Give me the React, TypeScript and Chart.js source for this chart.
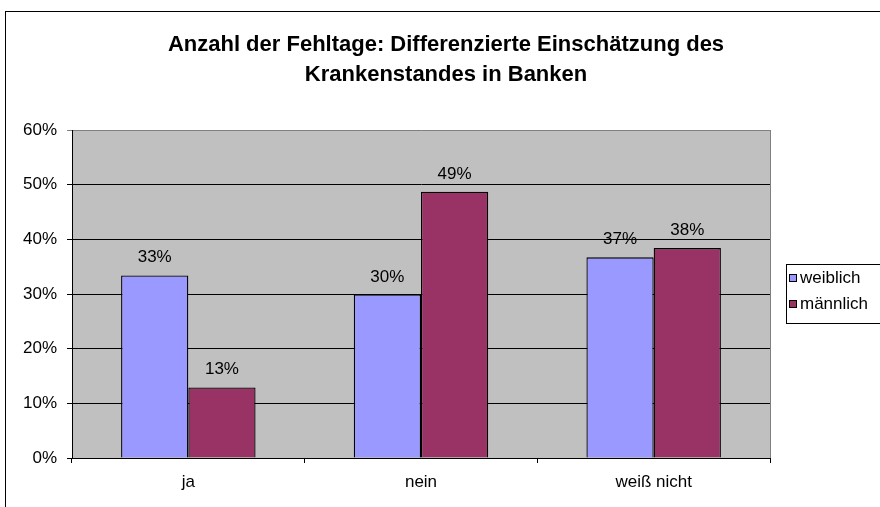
import React, { useEffect, useRef } from 'react';
import { Chart, registerables } from 'chart.js';

Chart.register(...registerables);

const categories = ['ja', 'nein', 'weiß nicht'];
const seriesNames = ['weiblich', 'männlich'];
const weiblich = [33.4, 29.9, 36.7];
const maennlich = [12.9, 48.7, 38.4];
const seriesColors = ['#9999FF', '#993366'];
const yMin = 0;
const yMax = 60;
const yStep = 10;
const titleLines = [
  'Anzahl der Fehltage: Differenzierte Einschätzung des',
  'Krankenstandes in Banken',
];

const FONT = '"Liberation Sans", Arial, sans-serif';

const decor = {
  id: 'decor',
  beforeDraw(chart: any) {
    const { ctx, chartArea: a } = chart;
    ctx.save();
    ctx.fillStyle = '#ffffff';
    ctx.fillRect(0, 0, chart.width, chart.height);
    ctx.strokeStyle = '#000000';
    ctx.lineWidth = 1;
    ctx.strokeRect(5.5, 11.5, 2000, 2000);
    ctx.fillStyle = '#C0C0C0';
    ctx.fillRect(a.left, a.top, a.right - a.left, a.bottom - a.top);
    ctx.restore();
  },
  afterDatasetsDraw(chart: any) {
    const { ctx } = chart;
    ctx.save();
    ctx.fillStyle = '#000000';
    ctx.font = `17px ${FONT}`;
    ctx.textAlign = 'center';
    ctx.textBaseline = 'alphabetic';
    chart.data.datasets.forEach((ds: any, di: number) => {
      const meta = chart.getDatasetMeta(di);
      meta.data.forEach((el: any, i: number) => {
        ctx.fillText(Math.round(ds.data[i]) + '%', el.x, el.y - 13);
      });
    });
    ctx.restore();
  },
  afterDraw(chart: any) {
    const { ctx, chartArea: a } = chart;
    ctx.save();
    // plot area right border
    ctx.strokeStyle = '#808080';
    ctx.lineWidth = 1;
    ctx.beginPath();
    ctx.moveTo(Math.round(a.right) + 0.5, a.top);
    ctx.lineTo(Math.round(a.right) + 0.5, a.bottom);
    ctx.stroke();
    // title
    ctx.fillStyle = '#000000';
    ctx.font = `bold 22px ${FONT}`;
    ctx.textAlign = 'center';
    ctx.textBaseline = 'middle';
    titleLines.forEach((t, i) => ctx.fillText(t, 446, 45 + i * 30));
    // legend
    ctx.strokeStyle = '#000000';
    ctx.strokeRect(786.5, 264.5, 200, 59);
    ctx.font = `17px ${FONT}`;
    ctx.textAlign = 'left';
    chart.data.datasets.forEach((ds: any, i: number) => {
      const cy = 278 + i * 26;
      ctx.fillStyle = ds.backgroundColor;
      ctx.fillRect(789, cy - 4, 8, 8);
      ctx.strokeStyle = '#000000';
      ctx.strokeRect(789.5, cy - 3.5, 7, 7);
      ctx.fillStyle = '#000000';
      ctx.fillText(ds.label, 800, cy);
    });
    ctx.restore();
  },
};

export default function App() {
  const ref = useRef<HTMLCanvasElement>(null);
  useEffect(() => {
    if (!ref.current) return;
    const chart = new Chart(ref.current, {
      type: 'bar',
      data: {
        labels: categories,
        datasets: [
          {
            label: seriesNames[0],
            data: weiblich,
            backgroundColor: seriesColors[0],
            borderColor: '#000000',
            borderWidth: 1.3,
            categoryPercentage: 0.578,
            barPercentage: 1,
          },
          {
            label: seriesNames[1],
            data: maennlich,
            backgroundColor: seriesColors[1],
            borderColor: '#000000',
            borderWidth: 1.3,
            categoryPercentage: 0.578,
            barPercentage: 1,
          },
        ],
      },
      options: {
        responsive: false,
        animation: false,
        devicePixelRatio: 1,
        layout: { padding: { left: 6, top: 130, right: 110, bottom: 0 } },
        plugins: {
          legend: { display: false },
          title: { display: false },
          tooltip: { enabled: false },
        },
        scales: {
          x: {
            afterFit: (s: any) => {
              s.height = 49;
            },
            grid: {
              drawOnChartArea: false,
              offset: true,
              tickLength: 5,
              color: '#000000',
            },
            border: { display: true, color: '#000000' },
            ticks: {
              color: '#000000',
              font: { family: FONT, size: 17 },
              padding: 9,
            },
          },
          y: {
            min: yMin,
            max: yMax,
            afterFit: (s: any) => {
              s.width = 66;
            },
            grid: {
              tickLength: 5,
              color: (c: any) => (c.tick && c.tick.value === yMax ? '#808080' : '#000000'),
            },
            border: { display: true, color: '#000000' },
            ticks: {
              stepSize: yStep,
              color: '#000000',
              font: { family: FONT, size: 17 },
              padding: 10,
              callback: (v: any) => v + '%',
            },
          },
        },
      },
      plugins: [decor],
    });
    return () => chart.destroy();
  }, []);
  return (
    <div style={{ position: 'absolute', left: 0, top: 0, width: 880, height: 507 }}>
      <canvas ref={ref} width={880} height={507} />
    </div>
  );
}
